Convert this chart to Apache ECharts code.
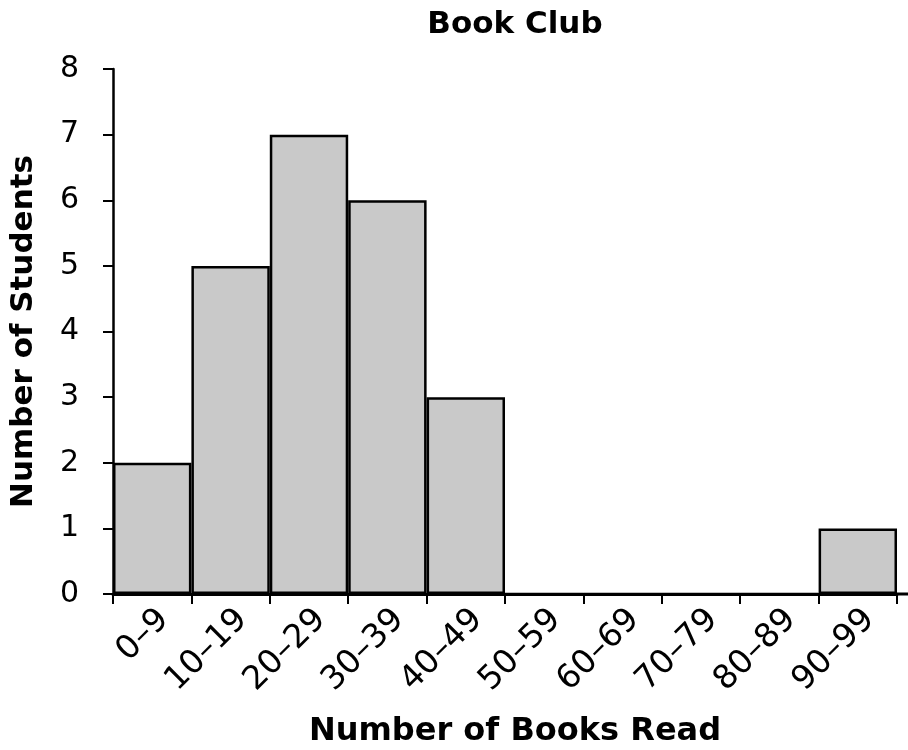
<!DOCTYPE html>
<html>
<head>
<meta charset="utf-8">
<script src="https://cdn.jsdelivr.net/npm/echarts@6/dist/echarts.min.js"></script>
<style>
  html, body { margin: 0; padding: 0; background: #fff; }
  #chart { width: 908px; height: 750px; }
</style>
</head>
<body>
<div id="chart"></div>
<script>
// Book counts grouped in ranges of ten
const categories = ['0–9', '10–19', '20–29', '30–39', '40–49', '50–59', '60–69', '70–79', '80–89', '90–99'];
const students = [2, 5, 7, 6, 3, 0, 0, 0, 0, 1];
const yTicks = { min: 0, max: 8, interval: 1 };

const FONT = 'DejaVu Sans, Verdana, sans-serif';
const chart = echarts.init(document.getElementById('chart'));

chart.setOption({
  animation: false,
  title: {
    text: 'Book Club',
    left: 510, top: 4, textAlign: 'center',
    textStyle: { fontFamily: FONT, fontWeight: 'bold', fontSize: 31, color: '#000' }
  },
  grid: { left: 113, right: 11, top: 69, bottom: 156, outerBoundsMode: 'none', containLabel: false },
  xAxis: {
    type: 'category',
    data: categories,
    name: 'Number of Books Read',
    nameLocation: 'middle',
    nameGap: 122,
    nameTextStyle: { fontFamily: FONT, fontWeight: 'bold', fontSize: 32, color: '#000', padding: [0, 0, 0, 20] },
    axisLine: { lineStyle: { color: '#000', width: 3 } },
    axisTick: { show: true, interval: 0, length: 10, lineStyle: { color: '#000', width: 2 } },
    axisLabel: {
      interval: 0, rotate: 45, margin: 9, verticalAlign: 'top',
      fontFamily: FONT, fontSize: 33, color: '#000'
    }
  },
  yAxis: {
    type: 'value',
    min: yTicks.min, max: yTicks.max, interval: yTicks.interval,
    name: 'Number of Students',
    nameLocation: 'middle',
    nameGap: 74,
    nameTextStyle: { fontFamily: FONT, fontWeight: 'bold', fontSize: 31, color: '#000' },
    splitLine: { show: false },
    axisLine: { show: true, lineStyle: { color: '#000', width: 2.5 } },
    axisTick: { show: true, length: 10, lineStyle: { color: '#000', width: 2 } },
    axisLabel: { margin: 34, fontFamily: FONT, fontSize: 30, color: '#000' }
  },
  series: [{
    type: 'bar',
    data: students,
    barCategoryGap: 0,
    itemStyle: { color: '#c9c9c9', borderColor: '#000', borderWidth: 2.5 }
  }]
});

// The baseline runs on past the last category to the right edge of the page
const gridRect = chart.getModel().getComponent('grid').coordinateSystem.getRect();
chart.setOption({
  graphic: [{
    type: 'line',
    shape: {
      x1: gridRect.x + gridRect.width, y1: gridRect.y + gridRect.height,
      x2: chart.getWidth(), y2: gridRect.y + gridRect.height
    },
    style: { stroke: '#000', lineWidth: 3 }
  }]
});
</script>
</body>
</html>
